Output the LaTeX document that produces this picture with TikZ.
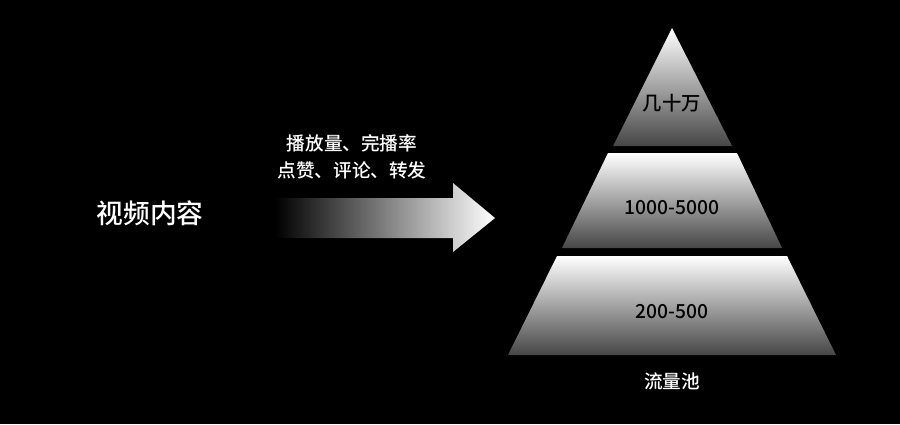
\documentclass[tikz,border=0pt]{standalone}
\usepackage{fontspec}
\setmainfont{Noto Sans CJK SC}
\newfontfamily\medfont{Noto Sans CJK SC Medium}
\usetikzlibrary{positioning}
\tikzset{
    tier/.style={top color=white, bottom color=gray!55!black, draw=none},
    tierText/.style={text=black, font=\medfont\fontsize{5.5}{6.5}\selectfont},
    whiteText/.style={text=white, font=\medfont\fontsize{5.3}{7.6}\selectfont, align=center}
}
\begin{document}
\begin{tikzpicture}[x=0.01cm,y=-0.01cm]
	\fill[black] (0,0) rectangle (900,424);
	\useasboundingbox (0,0) rectangle (900,424);
	% arrow
	\shade[left color=black, right color=white, draw=none]
		(275,198) -- (453,198) -- (453,183) -- (495,218) -- (453,252) -- (453,238) -- (275,238) -- cycle;
	% pyramid
	\shade[tier] (672,28) -- (732,146) -- (613,146) -- cycle;
	\shade[tier] (608,153) -- (737,153) -- (782,248) -- (562,248) -- cycle;
	\shade[tier] (557,256) -- (787,256) -- (836,355) -- (508,355) -- cycle;
	\node[tierText] (top) at (672,103) {几十万};
	\node[tierText] (mid) at (672,208) {1000-5000};
	\node[tierText] (low) at (672,312) {200-500};
	\node[whiteText] (pool) at (672,381) {流量池};
	\node[text=white, font=\medfont\fontsize{7.6}{9}\selectfont] (video) at (150,213) {视频内容};
	\node[whiteText] (metrics) at (352,157) {播放量、完播率\\点赞、评论、转发};
\end{tikzpicture}
\end{document}
